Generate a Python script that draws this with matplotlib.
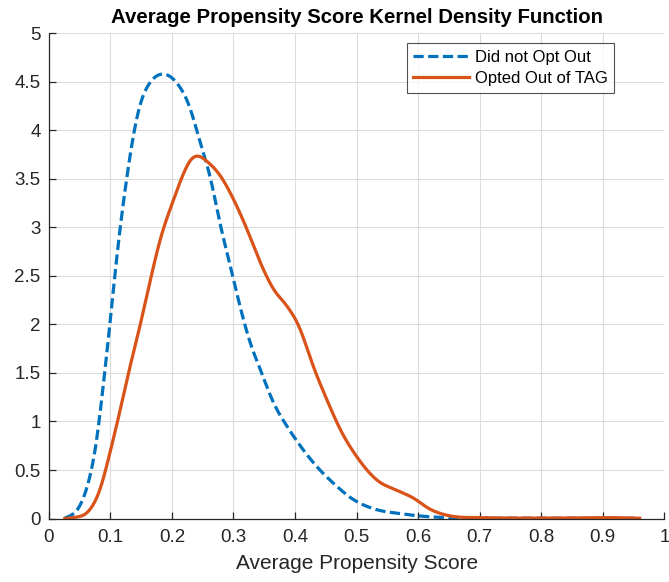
import matplotlib
matplotlib.use("Agg")
import matplotlib.pyplot as plt
import numpy as np

# kernel density estimates
x_no_opt = [0.026, 0.050, 0.067, 0.078, 0.088, 0.099, 0.107, 0.116, 0.127, 0.135,
            0.148, 0.165, 0.189, 0.208, 0.228, 0.246, 0.262, 0.279, 0.295, 0.308,
            0.327, 0.344, 0.365, 0.387, 0.405, 0.436, 0.463, 0.496, 0.528, 0.572,
            0.615, 0.660, 0.700, 0.800, 0.900, 0.960]
y_no_opt = [0.00, 0.12, 0.43, 0.80, 1.35, 1.98, 2.50, 3.01, 3.53, 3.87,
            4.27, 4.50, 4.58, 4.49, 4.26, 3.87, 3.53, 3.01, 2.60, 2.25,
            1.81, 1.53, 1.19, 0.95, 0.78, 0.53, 0.36, 0.19, 0.10, 0.05,
            0.02, 0.008, 0.005, 0.004, 0.003, 0.003]

x_opted = [0.026, 0.045, 0.061, 0.083, 0.099, 0.116, 0.132, 0.148, 0.165, 0.181,
           0.203, 0.219, 0.230, 0.243, 0.257, 0.279, 0.300, 0.322, 0.344, 0.365,
           0.387, 0.406, 0.430, 0.452, 0.474, 0.501, 0.534, 0.566, 0.593, 0.618,
           0.637, 0.659, 0.700, 0.800, 0.880, 0.910, 0.960]
y_opted = [0.00, 0.015, 0.05, 0.29, 0.67, 1.12, 1.57, 1.98, 2.46, 2.88,
           3.29, 3.56, 3.70, 3.74, 3.68, 3.53, 3.29, 2.98, 2.63, 2.36,
           2.19, 1.99, 1.56, 1.22, 0.91, 0.63, 0.39, 0.29, 0.21, 0.10,
           0.05, 0.02, 0.01, 0.005, 0.008, 0.01, 0.003]

series_labels = ["Did not Opt Out", "Opted Out of TAG"]

plt.rcParams['font.family'] = ['Liberation Sans', 'DejaVu Sans']

def smooth(xs, ys, n=1000, sigma=0.005):
    # cubic hermite through the read points, then a light gaussian pass to remove kinks
    xs = np.asarray(xs)
    ys = np.asarray(ys)
    xx = np.linspace(xs[0], xs[-1], n)
    m = np.gradient(ys, xs)
    idx = np.clip(np.searchsorted(xs, xx) - 1, 0, len(xs) - 2)
    h = xs[idx + 1] - xs[idx]
    t = (xx - xs[idx]) / h
    h00 = 2 * t**3 - 3 * t**2 + 1
    h10 = t**3 - 2 * t**2 + t
    h01 = -2 * t**3 + 3 * t**2
    h11 = t**3 - t**2
    yy = h00 * ys[idx] + h10 * h * m[idx] + h01 * ys[idx + 1] + h11 * h * m[idx + 1]
    dx = xx[1] - xx[0]
    k = np.arange(-int(4 * sigma / dx), int(4 * sigma / dx) + 1) * dx
    w = np.exp(-0.5 * (k / sigma) ** 2)
    w /= w.sum()
    pad = len(k) // 2
    yp = np.concatenate([np.full(pad, yy[0]), yy, np.full(pad, yy[-1])])
    ys2 = np.convolve(yp, w, mode='valid')
    return xx, np.clip(ys2, 0, None)

fig = plt.figure(figsize=(6.69, 5.82), dpi=100)
ax = fig.add_axes([0.073, 0.109, 0.920, 0.834])

xa, ya = smooth(x_no_opt, y_no_opt)
xb, yb = smooth(x_opted, y_opted)
ax.plot(xa, ya, color='#0072BD', lw=2.3, ls=(0, (3.2, 1.4)), label=series_labels[0])
ax.plot(xb, yb, color='#D95319', lw=2.3, label=series_labels[1])

ax.set_xlim(0, 1)
ax.set_ylim(0, 5)
ax.set_xticks(np.arange(0, 1.01, 0.1))
ax.set_xticklabels(['0', '0.1', '0.2', '0.3', '0.4', '0.5', '0.6', '0.7', '0.8', '0.9', '1'])
ax.set_yticks(np.arange(0, 5.01, 0.5))
ax.set_yticklabels(['0', '0.5', '1', '1.5', '2', '2.5', '3', '3.5', '4', '4.5', '5'])
ax.grid(True, color='#dcdcdc', lw=0.8)
ax.set_axisbelow(True)
for s in ['top', 'right']:
    ax.spines[s].set_visible(False)
for s in ['left', 'bottom']:
    ax.spines[s].set_color('#262626')
    ax.spines[s].set_linewidth(0.9)
ax.tick_params(direction='in', length=5, width=0.9, colors='#262626', labelsize=13.5)
ax.tick_params(axis='x', pad=7.5)
ax.tick_params(axis='y', pad=6)

ax.set_xlabel('Average Propensity Score', fontsize=15, color='#262626', labelpad=6)
ax.set_title('Average Propensity Score Kernel Density Function', fontsize=14.7,
             fontweight='bold', pad=7)

leg = ax.legend(loc='upper right', bbox_to_anchor=(0.919, 0.98), fontsize=12,
                frameon=True, fancybox=False, handlelength=3.35, borderpad=0.4,
                labelspacing=0.4, handletextpad=0.35, borderaxespad=0)
leg.get_frame().set_edgecolor('#262626')
leg.get_frame().set_linewidth(0.8)

fig.savefig('out.png', dpi=100)
